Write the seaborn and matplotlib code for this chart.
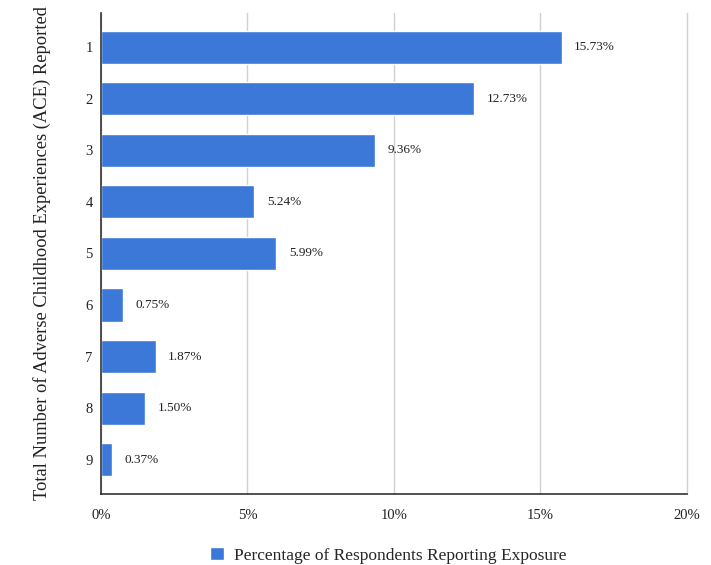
import matplotlib
matplotlib.use("Agg")
import matplotlib.pyplot as plt
import seaborn as sns
import pandas as pd
from matplotlib.ticker import FuncFormatter

categories = ["1", "2", "3", "4", "5", "6", "7", "8", "9"]
values = [15.73, 12.73, 9.36, 5.24, 5.99, 0.75, 1.87, 1.50, 0.37]
xticks = [0, 5, 10, 15, 20]
series_name = "Percentage of Respondents Reporting Exposure"
ylabel = "Total Number of Adverse Childhood Experiences (ACE) Reported"

sns.set_theme(style="white")
plt.rcParams["font.family"] = ["Liberation Serif", "DejaVu Serif"]

df = pd.DataFrame({"ace": categories, "pct": values, "series": series_name})

fig = plt.figure(figsize=(7.11, 5.65), dpi=100)
ax = fig.add_axes([0.142, 0.126, 0.824, 0.851])
color = "#3c78d8"
sns.barplot(data=df, x="pct", y="ace", hue="series", palette=[color],
            orient="h", width=0.64, ax=ax, legend=True, saturation=1)

for c in ax.containers:
    ax.bar_label(c, labels=[f"{v:.2f}%" for v in values], padding=9, fontsize=9.5, color="#222222")

ax.set_xlim(0, 20)
ax.set_ylim(8.66, -0.66)
ax.set_xticks(xticks)
ax.xaxis.set_major_formatter(FuncFormatter(lambda v, p: f"{v:.0f}%"))
ax.tick_params(axis="x", labelsize=10.5, colors="#222222", length=0, pad=11)
ax.tick_params(axis="y", labelsize=10.5, colors="#222222", length=0, pad=6)
ax.grid(axis="x", color="#d0d0d0", linewidth=1)
for gl in ax.get_xgridlines():
    gl.set_clip_on(False)
ax.set_axisbelow(True)
ax.set_xlabel("")
ax.set_ylabel(ylabel, fontsize=13.3, color="#222222", labelpad=25)
for s in ["top", "right"]:
    ax.spines[s].set_visible(False)
for s in ["left", "bottom"]:
    ax.spines[s].set_color("#333333")
    ax.spines[s].set_linewidth(1.2)

ax.legend(loc="center", bbox_to_anchor=(0.49, -0.128), frameon=False,
          fontsize=12.5, handlelength=0.8, handleheight=0.8, handletextpad=0.6,
          borderpad=0, borderaxespad=0)

fig.savefig("out.png", dpi=100)
